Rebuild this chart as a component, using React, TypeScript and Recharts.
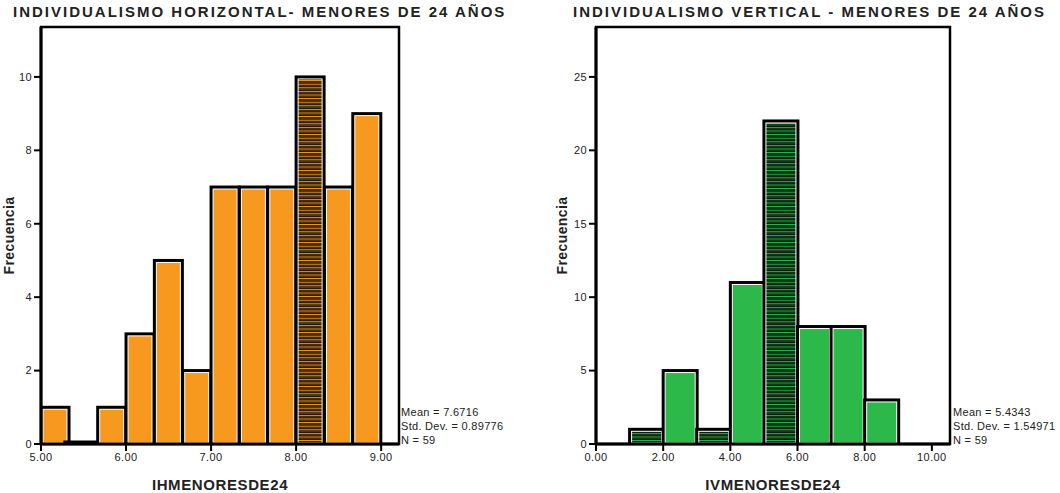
import React from 'react';
import { BarChart, Bar, XAxis, YAxis, ReferenceArea } from 'recharts';

// ---------- data: horizontal individualism ----------
const hBinStarts = [5.0, 5.3333, 5.6667, 6.0, 6.3333, 6.6667, 7.0, 7.3333, 7.6667, 8.0, 8.3333, 8.6667];
const hCounts = [1, 0, 1, 3, 5, 2, 7, 7, 7, 10, 7, 9];
const hHatched = [false, false, false, false, false, false, false, false, false, true, false, false];
const hBinWidth = 0.3333;
const hXTicks = [5, 6, 7, 8, 9];
const hYTicks = [0, 2, 4, 6, 8, 10];
const hXDomain = [5, 9.21];
const hYDomain = [0, 11.36];
const hStats = ['Mean = 7.6716', 'Std. Dev. = 0.89776', 'N = 59'];

// ---------- data: vertical individualism ----------
const vBinStarts = [1, 2, 3, 4, 5, 6, 7, 8];
const vCounts = [1, 5, 1, 11, 22, 8, 8, 3];
const vHatched = [true, false, true, false, true, false, false, false];
const vBinWidth = 1;
const vXTicks = [0, 2, 4, 6, 8, 10];
const vYTicks = [0, 5, 10, 15, 20, 25];
const vXDomain = [0, 10.54];
const vYDomain = [0, 28.4];
const vStats = ['Mean = 5.4343', 'Std. Dev. = 1.54971', 'N = 59'];

const FONT = '"Liberation Sans", Arial, sans-serif';
const ORANGE = '#F7991F';
const GREEN = '#2DB84A';

function buildRows(starts: number[], counts: number[], hatched: boolean[], w: number) {
  return starts.map((s, i) => ({ center: s + w / 2, count: counts[i], hatched: hatched[i] }));
}

const makeShape = (fill: string, patternId: string) => (props: any) => {
  const { x, y, width, height, payload } = props;
  if (!isFinite(x) || !isFinite(y)) return <g />;
  if (!height || height <= 0.5) {
    return <line x1={x - 6} x2={x + width} y1={y - 2} y2={y - 2} stroke="#000" strokeWidth={3} />;
  }
  const innerFill = payload && payload.hatched ? `url(#${patternId})` : fill;
  return (
    <g>
      <rect x={x} y={y} width={width} height={height} fill="#000" stroke="#000" strokeWidth={3} />
      <rect
        x={x + 2}
        y={y + 2}
        width={Math.max(0, width - 4)}
        height={Math.max(0, height - 3)}
        fill={innerFill}
        stroke="#fff"
        strokeWidth={1}
      />
    </g>
  );
};

function Histogram(props: {
  rows: any[];
  color: string;
  patternId: string;
  xTicks: number[];
  yTicks: number[];
  xDomain: number[];
  yDomain: number[];
  xLabel: string;
  yAxisWidth: number;
  rightMargin: number;
  yLabelX: number;
}) {
  const { rows, color, patternId, xTicks, yTicks, xDomain, yDomain, xLabel, yAxisWidth, rightMargin, yLabelX } = props;
  const tickStyle = { fontSize: 11, fill: '#222', fontFamily: FONT, letterSpacing: 0.4 };
  return (
    <BarChart
      width={530}
      height={493}
      data={rows}
      margin={{ top: 27, right: rightMargin, bottom: 0, left: 0 }}
      barCategoryGap={0}
      barGap={0}
    >
      <defs>
        <pattern id={patternId} x={0} y={0} width={6} height={3.6} patternUnits="userSpaceOnUse">
          <rect x={0} y={0} width={6} height={3.6} fill="#000" />
          <rect x={0} y={0.8} width={6} height={1.2} fill={color} />
          <rect x={0} y={2.6} width={6} height={0.7} fill={color} opacity={0.5} />
        </pattern>
      </defs>
      <XAxis
        dataKey="center"
        type="number"
        domain={xDomain}
        ticks={xTicks}
        allowDataOverflow
        height={49}
        tickFormatter={(v: number) => v.toFixed(2)}
        tick={tickStyle}
        tickSize={7}
        axisLine={{ stroke: '#000', strokeWidth: 3 }}
        tickLine={{ stroke: '#000', strokeWidth: 2 }}
        label={{
          value: xLabel,
          position: 'insideBottom',
          offset: 3,
          style: { fontSize: 15, fontWeight: 'bold', fill: '#222', fontFamily: FONT, letterSpacing: 0.6 },
        }}
      />
      <YAxis
        type="number"
        domain={yDomain}
        ticks={yTicks}
        allowDataOverflow
        width={yAxisWidth}
        tick={tickStyle}
        tickSize={7}
        axisLine={{ stroke: '#000', strokeWidth: 3 }}
        tickLine={{ stroke: '#000', strokeWidth: 2 }}
        label={{
          content: (p: any) => {
            const vb = p.viewBox || {};
            const cy = (vb.y || 0) + (vb.height || 0) / 2;
            return (
              <text
                x={yLabelX}
                y={cy}
                transform={`rotate(-90, ${yLabelX}, ${cy})`}
                textAnchor="middle"
                dominantBaseline="central"
                style={{ fontSize: 14, fontWeight: 'bold', fill: '#222', fontFamily: FONT, letterSpacing: 0.4 }}
              >
                Frecuencia
              </text>
            );
          },
        }}
      />
      <ReferenceArea
        x1={xDomain[0]}
        x2={xDomain[1]}
        y1={yDomain[0]}
        y2={yDomain[1]}
        fill="none"
        fillOpacity={0}
        stroke="#000"
        strokeWidth={2.5}
        ifOverflow="visible"
      />
      <Bar dataKey="count" isAnimationActive={false} shape={makeShape(color, patternId)} />
    </BarChart>
  );
}

function Stats({ lines, left }: { lines: string[]; left: number }) {
  return (
    <div style={{ position: 'absolute', left, top: 405, fontFamily: FONT, fontSize: 11, color: '#222', lineHeight: '14px', whiteSpace: 'nowrap', letterSpacing: 0.3 }}>
      {lines.map((l) => (
        <div key={l}>{l}</div>
      ))}
    </div>
  );
}

export default function App() {
  const hRows = buildRows(hBinStarts, hCounts, hHatched, hBinWidth);
  const vRows = buildRows(vBinStarts, vCounts, vHatched, vBinWidth);
  const titleStyle: React.CSSProperties = {
    position: 'absolute',
    top: 3,
    fontFamily: FONT,
    fontSize: 15,
    fontWeight: 'bold',
    color: '#222',
    whiteSpace: 'nowrap',
    letterSpacing: 2,
  };
  return (
    <div style={{ position: 'absolute', left: 0, top: 0, width: 1060, height: 493, background: '#fff' }}>
      <div style={{ ...titleStyle, left: 13 }}>INDIVIDUALISMO HORIZONTAL- MENORES DE 24 AÑOS</div>
      <div style={{ ...titleStyle, left: 573 }}>INDIVIDUALISMO VERTICAL - MENORES DE 24 AÑOS</div>
      <div style={{ position: 'absolute', left: 0, top: 0 }}>
        <Histogram
          rows={hRows}
          color={ORANGE}
          patternId="hatchOrange"
          xTicks={hXTicks}
          yTicks={hYTicks}
          xDomain={hXDomain}
          yDomain={hYDomain}
          xLabel="IHMENORESDE24"
          yAxisWidth={41}
          rightMargin={131}
          yLabelX={9}
        />
      </div>
      <div style={{ position: 'absolute', left: 530, top: 0 }}>
        <Histogram
          rows={vRows}
          color={GREEN}
          patternId="hatchGreen"
          xTicks={vXTicks}
          yTicks={vYTicks}
          xDomain={vXDomain}
          yDomain={vYDomain}
          xLabel="IVMENORESDE24"
          yAxisWidth={66}
          rightMargin={110}
          yLabelX={32}
        />
      </div>
      <Stats lines={hStats} left={401} />
      <Stats lines={vStats} left={953} />
    </div>
  );
}
